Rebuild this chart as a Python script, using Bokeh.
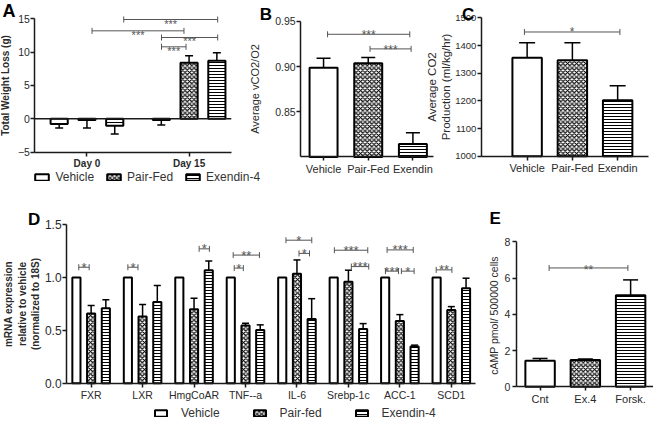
from math import pi
from bokeh.plotting import figure
from bokeh.models import (ColumnDataSource, Range1d, FixedTicker, Legend, LegendItem, LinearAxis,
                          Whisker, TeeHead, Label, NumeralTickFormatter)
from bokeh.embed import file_html
from bokeh.resources import INLINE
from bokeh.core.properties import value

FONT = "Liberation Sans"
INK = "#1a1a1a"
TXT = "#2a2a2a"
SIG = "#555555"

# ---------------- data ----------------
# Panel A: total weight loss (g)
a_days = ["Day 0", "Day 15"]
a_vehicle = [-0.8, -0.2]
a_vehicle_err = [-1.4, -0.95]
a_pairfed = [-0.2, 8.4]
a_pairfed_err = [-1.4, 9.45]
a_exendin = [-1.05, 8.7]
a_exendin_err = [-2.3, 9.9]
a_sig_x0 = [0.05, 0.36, 0.73, 0.73]
a_sig_x1 = [0.95, 1.28, 1.28, 0.97]
a_sig_y = [13.2, 14.9, 12.2, 10.8]
a_sig_text = ["***", "***", "***", "***"]

# Panel B: average vCO2/O2
b_groups = ["Vehicle", "Pair-Fed", "Exendin"]
b_values = [0.8986, 0.9036, 0.8143]
b_err = [0.9093, 0.9100, 0.8268]
b_sig_x0 = [0.09, 1.04]
b_sig_x1 = [1.93, 1.96]
b_sig_y = [0.9358, 0.9196]
b_sig_text = ["***", "***"]

# Panel C: average CO2 production
c_groups = ["Vehicle", "Pair-Fed", "Exendin"]
c_values = [1356, 1347, 1202]
c_err = [1410, 1410, 1255]
c_sig_x0 = [-0.06]
c_sig_x1 = [2.05]
c_sig_y = [1449]
c_sig_text = ["*"]

# Panel D: mRNA expression
d_genes = ["FXR", "LXR", "HmgCoAR", "TNF--a", "IL-6", "Srebp-1c", "ACC-1", "SCD1"]
d_vehicle = [1.0, 1.0, 1.0, 1.0, 1.0, 1.0, 1.0, 1.0]
d_pairfed = [0.659, 0.631, 0.70, 0.545, 1.037, 0.96, 0.588, 0.692]
d_pairfed_err = [0.735, 0.744, 0.805, 0.567, 1.167, 1.07, 0.649, 0.725]
d_exendin = [0.71, 0.768, 1.07, 0.503, 0.607, 0.512, 0.348, 0.899]
d_exendin_err = [0.79, 0.924, 1.156, 0.552, 0.80, 0.564, 0.36, 0.994]
d_sig_x0 = [-0.24, 0.714, 2.099, 2.781, 2.761, 3.786, 4.040, 4.727, 5.057, 5.752, 5.719, 6.029, 6.706]
d_sig_x1 = [-0.038, 0.910, 2.298, 2.958, 3.271, 4.288, 4.244, 5.376, 5.395, 6.260, 5.973, 6.277, 7.011]
d_sig_y = [1.098, 1.098, 1.272, 1.09, 1.213, 1.354, 1.229, 1.259, 1.104, 1.262, 1.061, 1.061, 1.073]
d_sig_text = ["*", "*", "*", "*", "**", "*", "*", "***", "***", "***", "***", "*", "**"]

# Panel E: cAMP
e_groups = ["Cnt", "Ex.4", "Forsk."]
e_values = [1.44, 1.47, 5.05]
e_err = [1.56, 1.53, 5.9]
e_sig_x0 = [0.2]
e_sig_x1 = [1.94]
e_sig_y = [6.56]
e_sig_text = ["**"]

# ---------------- styles ----------------
ST_VEH = dict(fill_color="white")
ST_PF = dict(fill_color="white", hatch_pattern="x", hatch_color="black", hatch_scale=4.5, hatch_weight=1.2)
ST_EX = dict(fill_color="white", hatch_pattern="-", hatch_color="black", hatch_scale=3, hatch_weight=1)

# ---------------- canvas ----------------
W, H = 653, 420


def cx(x):
    return (x - 2) * W / 665


def cy(y):
    return (y - 1) * H / 435


p = figure(width=W, height=H, x_range=Range1d(0, W), y_range=Range1d(H, 0),
           x_axis_type=None, y_axis_type=None, output_backend="svg", toolbar_location=None,
           min_border=0)
p.outline_line_color = None
p.background_fill_color = "white"
p.border_fill_color = "white"

X_RANGES, Y_RANGES = {}, {}


def style_axis(ax):
    ax.axis_line_color = INK
    ax.axis_line_width = 1.5
    ax.major_tick_line_color = INK
    ax.major_tick_line_width = 1.5
    ax.major_tick_out = 4
    ax.major_tick_in = 0
    ax.minor_tick_line_color = None
    ax.major_label_text_font = FONT
    ax.major_label_text_color = TXT
    ax.axis_label_text_font = FONT
    ax.axis_label_text_color = TXT
    ax.axis_label_text_font_style = "normal"
    ax.major_label_standoff = 2


class Panel:
    """One chart panel: its own ranges, pinned axes and glyph helpers on the shared canvas."""

    def __init__(self, name, box, xr, yr, ytop, labels, xfs, yticks):
        l, r, t, b = cx(box[0]), cx(box[1]), cy(box[2]), cy(box[3])
        kx = (xr[1] - xr[0]) / (r - l)
        ky = (yr[1] - yr[0]) / (b - t)
        X_RANGES[name] = Range1d(xr[0] - l * kx, xr[1] + (W - r) * kx)
        Y_RANGES[name] = Range1d(yr[0] - (H - b) * ky, yr[1] + t * ky)
        p.extra_x_ranges = dict(X_RANGES)
        p.extra_y_ranges = dict(Y_RANGES)
        self.n = dict(x_range_name=name, y_range_name=name)
        self.xr, self.yr = xr, yr
        xa = LinearAxis(fixed_location=yr[0], bounds=xr, **self.n)
        style_axis(xa)
        xa.ticker = FixedTicker(ticks=list(range(len(labels))))
        xa.major_label_overrides = {i: s for i, s in enumerate(labels)}
        xa.major_label_text_font_size = xfs
        ya = LinearAxis(fixed_location=xr[0], bounds=(yr[0], ytop), **self.n)
        style_axis(ya)
        ya.ticker = FixedTicker(ticks=yticks)
        p.add_layout(xa, "below")
        p.add_layout(ya, "left")
        self.xa, self.ya = xa, ya

    def bars(self, x, top, bottom, width, style, lw=2):
        src = ColumnDataSource(dict(x=x, top=top))
        return p.vbar(x="x", top="top", bottom=bottom, width=width, source=src,
                      line_color="black", line_width=lw, **style, **self.n)

    def errbars(self, x, val, err, head):
        up = [(xi, v, e) for xi, v, e in zip(x, val, err) if e >= v]
        dn = [(xi, v, e) for xi, v, e in zip(x, val, err) if e < v]
        if up:
            src = ColumnDataSource(dict(base=[u[0] for u in up], lower=[u[1] for u in up],
                                        upper=[u[2] for u in up]))
            p.add_layout(Whisker(source=src, base="base", lower="lower", upper="upper",
                                 line_color="black", line_width=1.5, lower_head=None,
                                 upper_head=TeeHead(size=head, line_color="black", line_width=1.5),
                                 **self.n))
        if dn:
            src = ColumnDataSource(dict(base=[u[0] for u in dn], lower=[u[2] for u in dn],
                                        upper=[u[1] for u in dn]))
            p.add_layout(Whisker(source=src, base="base", lower="lower", upper="upper",
                                 line_color="black", line_width=1.5, upper_head=None,
                                 lower_head=TeeHead(size=head, line_color="black", line_width=1.5),
                                 **self.n))

    def sig(self, x0, x1, y, text, fs="13px", yoff=0):
        src = ColumnDataSource(dict(x0=x0, x1=x1, y=y, xm=[(a + b) / 2 for a, b in zip(x0, x1)],
                                    text=text))
        p.segment(x0="x0", y0="y", x1="x1", y1="y", source=src, line_color=SIG, line_width=1, **self.n)
        for k in ("x0", "x1"):
            p.scatter(x=k, y="y", source=src, marker="dash", angle=pi / 2, size=6,
                      line_color=SIG, line_width=1, **self.n)
        p.text(x="xm", y="y", text="text", source=src, text_align="center",
               text_baseline="alphabetic", y_offset=yoff, text_font=value(FONT),
               text_font_size=fs, text_color=SIG, **self.n)


def letter(rx, ry, txt, size="17px"):
    p.add_layout(Label(x=cx(rx), y=cy(ry), text=txt, text_font=FONT, text_font_size=size,
                       text_font_style="bold", text_baseline="top", text_align="left",
                       text_color="black"))


def legend(items, rx, ry_center, spacing, standoff, gw, gh, fs="12px"):
    return Legend(items=[LegendItem(label=lab, renderers=[r]) for lab, r in items],
                  orientation="horizontal", location=(cx(rx), H - cy(ry_center) - 7),
                  border_line_color=None, background_fill_alpha=0, padding=0, margin=0,
                  spacing=spacing, label_standoff=standoff, glyph_width=gw, glyph_height=gh,
                  label_height=12, label_text_font=FONT, label_text_font_size=fs,
                  label_text_color="#333333")


# ---------------- Panel A ----------------
a_off = 0.272
a_w = 0.168
A = Panel("A", (37, 237, 20, 158), (-0.51, 1.413), (-5, 15), 15, a_days, "10px", [-5, 0, 5, 10, 15])
a_x = list(range(len(a_days)))
rv = A.bars([x - a_off for x in a_x], a_vehicle, 0, a_w, ST_VEH)
rp = A.bars(a_x, a_pairfed, 0, a_w, ST_PF)
re_ = A.bars([x + a_off for x in a_x], a_exendin, 0, a_w, ST_EX)
p.segment(x0=[A.xr[0]], y0=[0], x1=[A.xr[1]], y1=[0], line_color=INK, line_width=1.5, **A.n)
A.errbars([x - a_off for x in a_x], a_vehicle, a_vehicle_err, 8)
A.errbars(a_x, a_pairfed, a_pairfed_err, 8)
A.errbars([x + a_off for x in a_x], a_exendin, a_exendin_err, 8)
A.sig(a_sig_x0, a_sig_x1, a_sig_y, a_sig_text, fs="11px", yoff=4)
A.xa.major_label_text_font_style = "bold"
A.ya.major_label_text_font_size = "10.5px"
A.ya.major_label_standoff = 1
A.ya.axis_label = "Total Weight Loss (g)"
A.ya.axis_label_text_font_size = "10px"
A.ya.axis_label_text_font_style = "bold"
A.ya.axis_label_standoff = 4
p.add_layout(legend([("Vehicle", rv), ("Pair-Fed", rp), ("Exendin-4", re_)],
                    36, 184, 11, 5, 17, 8, "12px"))
letter(4, 2, "A", "18px")

# ---------------- Panel B ----------------
B = Panel("B", (307.7, 443, 22.7, 163), (-0.512, 2.462), (0.80, 0.95), 0.95, b_groups, "11px",
          [0.85, 0.90, 0.95])
bx = list(range(len(b_groups)))
for i, st in enumerate([ST_VEH, ST_PF, ST_EX]):
    B.bars([bx[i]], [b_values[i]], 0.80, 0.626, st)
B.errbars(bx, b_values, b_err, 14)
B.sig(b_sig_x0, b_sig_x1, b_sig_y, b_sig_text, fs="12px", yoff=1)
B.ya.formatter = NumeralTickFormatter(format="0.00")
B.ya.major_label_text_font_size = "10.5px"
B.ya.major_label_standoff = 1
B.ya.axis_label = "Average vCO2/O2"
B.ya.axis_label_text_font_size = "11px"
B.ya.axis_label_standoff = 11
letter(266, 6, "B")

# ---------------- Panel C ----------------
C = Panel("C", (491.7, 661.7, 19, 162.3), (-1.011, 2.677), (1000, 1500), 1500, c_groups, "11px",
          [1000, 1100, 1200, 1300, 1400, 1500])
cxs = list(range(len(c_groups)))
for i, st in enumerate([ST_VEH, ST_PF, ST_EX]):
    C.bars([cxs[i]], [c_values[i]], 1000, 0.65, st)
C.errbars(cxs, c_values, c_err, 16)
C.sig(c_sig_x0, c_sig_x1, c_sig_y, c_sig_text, fs="12px", yoff=0)
C.ya.major_label_text_font_size = "9.5px"
C.ya.major_label_standoff = 1
C.ya.axis_label = "Average CO2\nProduction (ml/kg/hr)"
C.ya.axis_label_text_font_size = "11.5px"
C.ya.axis_label_standoff = 0
letter(472, 6, "C")

# ---------------- Panel D ----------------
d_off = 0.286
d_w = 0.158
D = Panel("D", (69.3, 486, 233.3, 397.3), (-0.477, 7.475), (0, 1.5), 1.5, d_genes, "10.5px",
          [0, 0.5, 1.0, 1.5])
dx = list(range(len(d_genes)))
dv = D.bars([x - d_off for x in dx], d_vehicle, 0, d_w, ST_VEH)
dp = D.bars(dx, d_pairfed, 0, d_w, ST_PF)
de = D.bars([x + d_off for x in dx], d_exendin, 0, d_w, ST_EX)
D.errbars(dx, d_pairfed, d_pairfed_err, 7)
D.errbars([x + d_off for x in dx], d_exendin, d_exendin_err, 7)
D.sig(d_sig_x0, d_sig_x1, d_sig_y, d_sig_text, fs="13px", yoff=0)
D.ya.formatter = NumeralTickFormatter(format="0.0")
D.ya.major_label_text_font_size = "12px"
D.ya.major_label_standoff = 1
D.ya.axis_label = "mRNA expression\nrelative to vehicle\n(normalized to 18S)"
D.ya.axis_label_text_font_size = "10px"
D.ya.axis_label_text_font_style = "bold"
D.ya.axis_label_standoff = 1
p.add_layout(legend([("Vehicle", dv), ("Pair-fed", dp), ("Exendin-4", de)],
                    157.7, 428.5, 32, 13, 15, 8, "12px"))
letter(30, 218, "D")

# ---------------- Panel E ----------------
E = Panel("E", (527.3, 669, 251, 401), (-0.525, 2.549), (0, 8), 8, e_groups, "11px", [0, 2, 4, 6, 8])
exs = list(range(len(e_groups)))
for i, st in enumerate([ST_VEH, ST_PF, ST_EX]):
    E.bars([exs[i]], [e_values[i]], 0, 0.65, st)
E.errbars(exs, e_values, e_err, 15)
E.sig(e_sig_x0, e_sig_x1, e_sig_y, e_sig_text, fs="12px", yoff=2)
E.ya.major_label_text_font_size = "10.5px"
E.ya.major_label_standoff = 2
E.ya.axis_label = "cAMP pmol/ 500000  cells"
E.ya.axis_label_text_font_size = "10.5px"
E.ya.axis_label_standoff = 2
letter(500, 217, "E")

open("out.html", "w").write(file_html(p, INLINE))
